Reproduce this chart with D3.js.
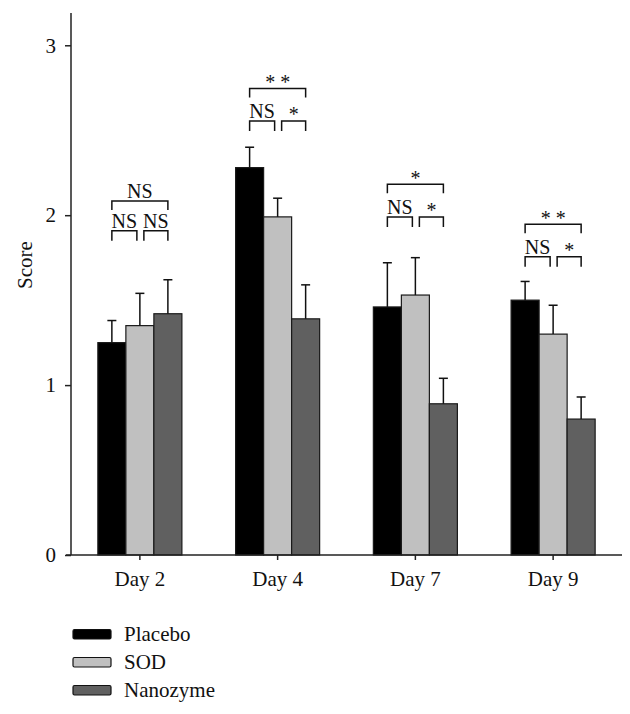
<!DOCTYPE html>
<html>
<head>
<meta charset="utf-8">
<script src="https://cdn.jsdelivr.net/npm/d3@7"></script>
<style>
  html, body { margin: 0; padding: 0; background: #fff; }
  svg { display: block; }
  text { font-family: "Liberation Serif", "DejaVu Serif", serif; fill: #111; }
</style>
</head>
<body>
<svg id="chart" width="630" height="714"></svg>
<script>
// ---- data ----
const days = ["Day 2", "Day 4", "Day 7", "Day 9"];
const series = ["Placebo", "SOD", "Nanozyme"];
const placebo    = [1.25, 2.28, 1.46, 1.50];
const placeboErr = [0.13, 0.12, 0.26, 0.11];
const sod        = [1.35, 1.99, 1.53, 1.30];
const sodErr     = [0.19, 0.11, 0.22, 0.17];
const nanozyme   = [1.42, 1.39, 0.89, 0.80];
const nanozymeErr= [0.20, 0.20, 0.15, 0.13];
const yTicks = [0, 1, 2, 3];
// significance brackets: [dayIndex, fromSeries, toSeries, level (score units), label]
const brackets = [
  [0, 0, 2, 2.084, "NS"], [0, 0, 1, 1.908, "NS"], [0, 1, 2, 1.908, "NS"],
  [1, 0, 2, 2.745, "* *"], [1, 0, 1, 2.555, "NS"], [1, 1, 2, 2.555, "*"],
  [2, 0, 2, 2.182, "*"], [2, 0, 1, 1.990, "NS"], [2, 1, 2, 1.990, "*"],
  [3, 0, 2, 1.947, "* *"], [3, 0, 1, 1.755, "NS"], [3, 1, 2, 1.755, "*"]
];

const values = [placebo, sod, nanozyme];
const errors = [placeboErr, sodErr, nanozymeErr];
const colors = ["#000000", "#c0c0c0", "#606060"];

const svg = d3.select("#chart");
const x0 = d3.scaleBand().domain(days).range([71, 622]).paddingInner(0.39).paddingOuter(0.195);
const x1 = d3.scaleBand().domain(series).range([0, x0.bandwidth()]).padding(0);
const y = d3.scaleLinear().domain([0, 3.19]).range([555, 13]);

// bars
const rows = [];
days.forEach((d, i) => series.forEach((s, j) => rows.push({d, s, i, j, v: values[j][i], e: errors[j][i]})));

const g = svg.append("g");
g.selectAll("rect.bar").data(rows).enter().append("rect")
  .attr("class", "bar")
  .attr("x", r => x0(r.d) + x1(r.s))
  .attr("y", r => y(r.v))
  .attr("width", x1.bandwidth())
  .attr("height", r => y(0) - y(r.v))
  .attr("fill", r => colors[r.j])
  .attr("stroke", "#1a1a1a")
  .attr("stroke-width", 1.2);

// error bars (upper only)
const cx = r => x0(r.d) + x1(r.s) + x1.bandwidth() / 2;
g.selectAll("line.err").data(rows).enter().append("line")
  .attr("x1", cx).attr("x2", cx)
  .attr("y1", r => y(r.v)).attr("y2", r => y(r.v + r.e))
  .attr("stroke", "#111").attr("stroke-width", 1.5);
g.selectAll("line.cap").data(rows).enter().append("line")
  .attr("x1", r => cx(r) - 4.5).attr("x2", r => cx(r) + 4.5)
  .attr("y1", r => y(r.v + r.e)).attr("y2", r => y(r.v + r.e))
  .attr("stroke", "#111").attr("stroke-width", 1.5);

// axes
const yAxis = d3.axisLeft(y).tickValues(yTicks).tickSize(6).tickPadding(9).tickFormat(d3.format("d"));
const ya = svg.append("g").attr("transform", "translate(71,0)").call(yAxis);
ya.select(".domain").attr("d", `M0,${y(0)}V${y(3.19)}`).attr("stroke", "#222").attr("stroke-width", 1.5);
ya.selectAll(".tick line").attr("stroke", "#222").attr("stroke-width", 1.5);
ya.selectAll(".tick text").style("font-family", "Liberation Serif").style("font-size", "21px").attr("fill", "#222");

const xAxis = d3.axisBottom(x0).tickSize(5).tickPadding(10);
const xa = svg.append("g").attr("transform", `translate(0,${y(0)})`).call(xAxis);
xa.select(".domain").attr("d", "M66,0H622").attr("stroke", "#222").attr("stroke-width", 1.5);
xa.selectAll(".tick line").attr("stroke", "#222").attr("stroke-width", 1.5);
xa.selectAll(".tick text").style("font-family", "Liberation Serif").style("font-size", "21px").attr("fill", "#222").attr("dy", "0.75em");

svg.append("text")
  .attr("transform", "translate(32,265) rotate(-90)")
  .attr("text-anchor", "middle")
  .style("font-size", "21px")
  .text("Score");

// significance brackets
const bg = svg.append("g");
brackets.forEach(([di, a, b, lvl, label]) => {
  const c = k => x0(days[di]) + x1(series[k]) + x1.bandwidth() / 2;
  let xa1 = c(a), xb1 = c(b);
  if (b - a === 1) { if (a === 0) xb1 -= 3; else xa1 += 4; }
  const yy = y(lvl);
  const leg = (b - a === 2) ? 9 : 10;
  bg.append("path")
    .attr("d", `M${xa1},${yy + leg}V${yy}H${xb1}V${yy + leg}`)
    .attr("fill", "none").attr("stroke", "#111").attr("stroke-width", 1.5);
  const isStar = label.indexOf("*") >= 0;
  bg.append("text")
    .attr("x", (xa1 + xb1) / 2)
    .attr("y", isStar ? yy + 0.5 : yy - 3)
    .attr("text-anchor", "middle")
    .style("font-size", "20px")
    .text(label);
});

// legend
const lg = svg.append("g");
series.forEach((s, j) => {
  const yb = 641 + j * 28;
  lg.append("rect").attr("x", 73).attr("y", yb - 11.5).attr("width", 38).attr("height", 9.5)
    .attr("rx", 1.5).attr("fill", colors[j]).attr("stroke", "#111").attr("stroke-width", 1.2);
  lg.append("text").attr("x", 124).attr("y", yb).style("font-size", "21px").text(s);
});
</script>
</body>
</html>
